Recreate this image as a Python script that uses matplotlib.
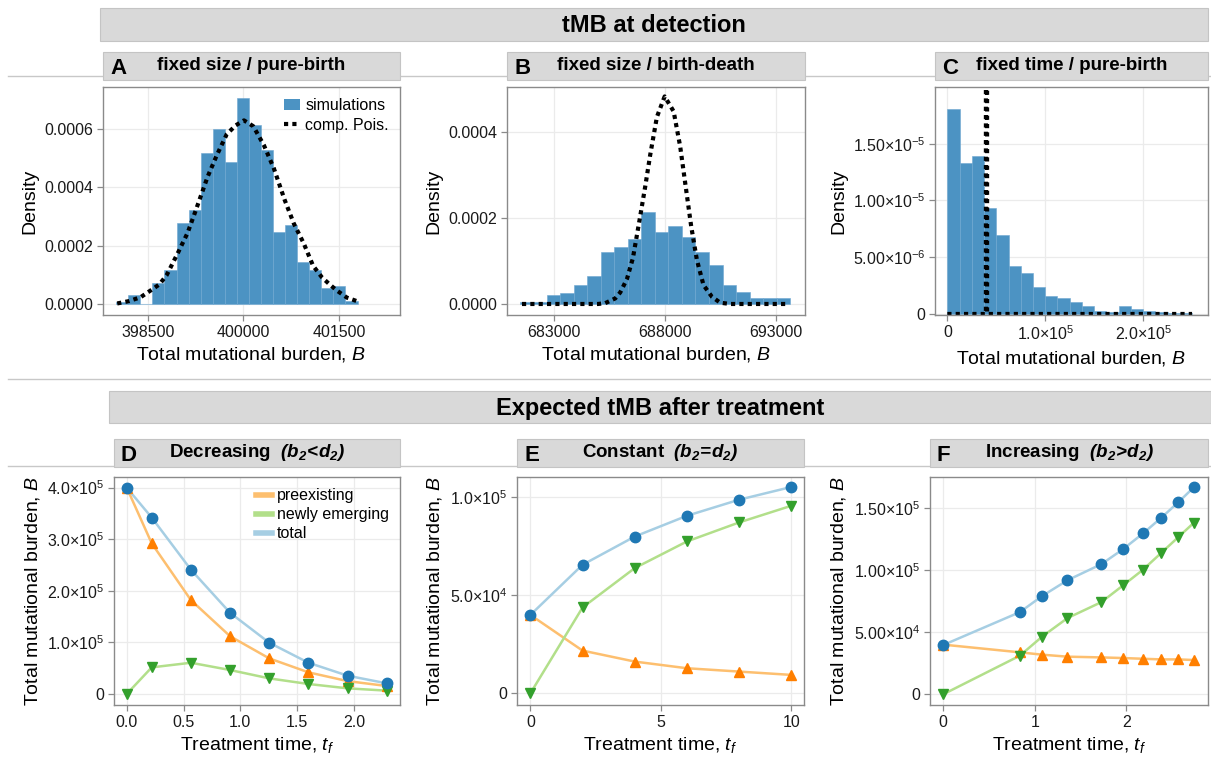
"""
tMB at detection (histograms vs compound Poisson) and expected tMB after treatment.
"""

import numpy as np
import matplotlib
matplotlib.use("Agg")
import matplotlib.pyplot as plt
from matplotlib.lines import Line2D
from matplotlib.patches import Patch, Rectangle

plt.rcParams["font.family"] = ["Liberation Sans", "DejaVu Sans"]
plt.rcParams["mathtext.fontset"] = "custom"
plt.rcParams["mathtext.rm"] = "Liberation Sans"
plt.rcParams["mathtext.it"] = "Liberation Sans:italic"
plt.rcParams["mathtext.bf"] = "Liberation Sans:bold"
plt.rcParams["mathtext.sf"] = "Liberation Sans:bold:italic"

# ---- panel A: fixed size / pure-birth ----
A_edges = [398005, 398194, 398384, 398573, 398762, 398952, 399141, 399330, 399520, 399709,
           399898, 400088, 400277, 400466, 400656, 400845, 401034, 401224, 401413, 401602, 401792]
A_density = [0.000009, 0.000032, 0.0, 0.000072, 0.000117, 0.000278, 0.000322, 0.000517, 0.000600, 0.000486,
             0.000705, 0.000611, 0.000528, 0.000248, 0.000270, 0.000145, 0.000117, 0.000055, 0.000063, 0.000010]
A_curve_x = [398020, 398203, 398385, 398542, 398682, 398797, 398969, 399125, 399255, 399438, 399583,
             399740, 399880, 400010, 400156, 400323, 400479, 400646, 400792, 400948, 401094, 401234,
             401365, 401469, 401625, 401781]
A_curve_y = [0.000003, 0.000011, 0.000024, 0.000047, 0.000068, 0.000100, 0.000174, 0.000244, 0.000322,
             0.000435, 0.000509, 0.000581, 0.000611, 0.000628, 0.000608, 0.000543, 0.000464, 0.000358,
             0.000276, 0.000208, 0.000132, 0.000092, 0.000066, 0.000047, 0.000023, 0.000011]
A_xticks = [398500, 400000, 401500]
A_xticklabels = ["398500", "400000", "401500"]
A_yticks = [0.0, 0.0002, 0.0004, 0.0006]
A_yticklabels = ["0.0000", "0.0002", "0.0004", "0.0006"]

# ---- panel B: fixed size / birth-death ----
B_edges = [681470, 682079, 682688, 683297, 683906, 684515, 685124, 685733, 686342, 686951, 687560,
           688169, 688778, 689387, 689996, 690605, 691214, 691823, 692432, 693041, 693650]
B_density = [0.000005, 0.000005, 0.000021, 0.000025, 0.000044, 0.000065, 0.000121, 0.000134, 0.000151, 0.000214,
             0.000167, 0.000183, 0.000157, 0.000121, 0.000091, 0.000044, 0.000029, 0.000015, 0.000015, 0.000015]
B_curve_x = [681575, 685000, 685325, 685775, 686000, 686300, 686570, 686870, 687125, 687350, 687650,
             688000, 688405, 688700, 688925, 689195, 689450, 689750, 690125, 690500, 690950, 693575]
B_curve_y = [0.0, 0.0, 0.000002, 0.000013, 0.000027, 0.000058, 0.000107, 0.000196, 0.000274, 0.000348,
             0.000436, 0.000484, 0.000449, 0.000367, 0.000282, 0.000181, 0.000103, 0.000044, 0.000017,
             0.000003, 0.0, 0.0]
B_xticks = [683000, 688000, 693000]
B_xticklabels = ["683000", "688000", "693000"]
B_yticks = [0.0, 0.0002, 0.0004]
B_yticklabels = ["0.0000", "0.0002", "0.0004"]

# ---- panel C: fixed time / pure-birth ----
C_edges = [0, 12500, 25000, 37500, 50000, 62500, 75000, 87500, 100000, 112500, 125000,
           137500, 150000, 162500, 175000, 187500, 200000, 212500, 225000, 237500, 250000]
C_density = [1.81e-5, 1.33e-5, 1.39e-5, 9.3e-6, 7.0e-6, 4.2e-6, 3.6e-6, 2.35e-6, 1.6e-6, 1.4e-6,
             1.03e-6, 7.4e-7, 2.9e-7, 2.1e-7, 7.4e-7, 4.4e-7, 2.9e-7, 2.1e-7, 1.2e-7, 1.2e-7]
C_curve_x = [0, 39400, 39700, 40000, 40300, 40600, 250000]
C_curve_y = [0.0, 0.0, 1.0e-3, 2.0e-3, 1.0e-3, 0.0, 0.0]
C_xticks = [0, 100000, 200000]
C_xticklabels = ["0", r"$1.0{\times}10^5$", r"$2.0{\times}10^5$"]
C_yticks = [0, 5e-6, 1e-5, 1.5e-5]
C_yticklabels = ["0", r"$5.00{\times}10^{-6}$", r"$1.00{\times}10^{-5}$", r"$1.50{\times}10^{-5}$"]

# ---- panel D: decreasing (b2<d2) ----
D_t = [0.0, 0.22, 0.565, 0.91, 1.255, 1.60, 1.945, 2.29]
D_pre = [4.0e5, 2.92e5, 1.82e5, 1.12e5, 0.69e5, 0.42e5, 0.25e5, 0.155e5]
D_new = [0.0, 0.516e5, 0.606e5, 0.465e5, 0.303e5, 0.194e5, 0.11e5, 0.065e5]
D_total = [4.0e5, 3.42e5, 2.41e5, 1.574e5, 0.994e5, 0.606e5, 0.355e5, 0.206e5]
D_xticks = [0.0, 0.5, 1.0, 1.5, 2.0]
D_xticklabels = ["0.0", "0.5", "1.0", "1.5", "2.0"]
D_yticks = [0, 1e5, 2e5, 3e5, 4e5]
D_yticklabels = ["0", r"$1.0{\times}10^5$", r"$2.0{\times}10^5$", r"$3.0{\times}10^5$", r"$4.0{\times}10^5$"]

# ---- panel E: constant (b2=d2) ----
E_t = [0, 2, 4, 6, 8, 10]
E_pre = [4.0e4, 2.18e4, 1.62e4, 1.28e4, 1.11e4, 0.94e4]
E_new = [0.0, 4.38e4, 6.39e4, 7.75e4, 8.72e4, 9.57e4]
E_total = [4.0e4, 6.56e4, 8.0e4, 9.06e4, 9.88e4, 10.53e4]
E_xticks = [0, 5, 10]
E_xticklabels = ["0", "5", "10"]
E_yticks = [0, 5e4, 1e5]
E_yticklabels = ["0", r"$5.0{\times}10^4$", r"$1.0{\times}10^5$"]

# ---- panel F: increasing (b2>d2) ----
F_t = [0.0, 0.836, 1.08, 1.356, 1.727, 1.964, 2.182, 2.382, 2.564, 2.738]
F_pre = [4.0e4, 3.38e4, 3.19e4, 3.03e4, 2.97e4, 2.92e4, 2.86e4, 2.81e4, 2.81e4, 2.76e4]
F_new = [0.0, 3.11e4, 4.65e4, 6.14e4, 7.43e4, 8.78e4, 10.05e4, 11.41e4, 12.65e4, 13.84e4]
F_total = [3.97e4, 6.62e4, 7.92e4, 9.19e4, 10.49e4, 11.70e4, 12.97e4, 14.24e4, 15.46e4, 16.70e4]
F_xticks = [0, 1, 2]
F_xticklabels = ["0", "1", "2"]
F_yticks = [0, 5e4, 1e5, 1.5e5]
F_yticklabels = ["0", r"$5.00{\times}10^4$", r"$1.00{\times}10^5$", r"$1.50{\times}10^5$"]

W, H = 1211, 757
BAR_COLOR = "#4c93c3"
BOX_COLOR = "#d9d9d9"
PRE_LINE, PRE_MARK = "#fdbf6f", "#ff7f00"
NEW_LINE, NEW_MARK = "#b2df8a", "#33a02c"
TOT_LINE, TOT_MARK = "#a6cee3", "#1f78b4"
DOTS = (0, (1, 1))

fig = plt.figure(figsize=(W / 100, H / 100), dpi=100)


def px_axes(x0, x1, y0, y1):
    """Add axes given pixel box (y measured from top)."""
    return fig.add_axes([x0 / W, 1 - y1 / H, (x1 - x0) / W, (y1 - y0) / H])


def px_box(x0, x1, y0, y1, border=True):
    fig.patches.append(Rectangle((x0 / W, 1 - y1 / H), (x1 - x0) / W, (y1 - y0) / H,
                                 transform=fig.transFigure, facecolor=BOX_COLOR,
                                 edgecolor="#c4c4c4" if border else "none", linewidth=0.8, zorder=2))


def px_hline(y, x0, x1):
    fig.add_artist(Line2D([x0 / W, x1 / W], [1 - y / H, 1 - y / H], color="#c8c8c8",
                          linewidth=1.0, zorder=1))


def panel_title(x0, x1, y0, y1, letter, text):
    px_box(x0, x1, y0, y1)
    yc = 1 - (y0 + y1) / 2 / H
    fig.text((x0 + 7) / W, yc - 0.003, letter, fontsize=16, fontweight="bold", ha="left", va="center", zorder=3)
    fig.text((x0 + x1) / 2 / W, yc, text, fontsize=13.5, fontweight="bold", ha="center", va="center", zorder=3)


def style(ax, xlim, ylim, xticks, xlabels, yticks, ylabels, xlabel, ylabel):
    ax.set_xlim(*xlim)
    ax.set_ylim(*ylim)
    ax.set_xticks(xticks)
    ax.set_xticklabels(xlabels)
    ax.set_yticks(yticks)
    ax.set_yticklabels(ylabels)
    ax.grid(True, color="#ebebeb", linewidth=0.9)
    ax.set_axisbelow(True)
    for s in ax.spines.values():
        s.set_color("#8a8a8a")
        s.set_linewidth(1.0)
    ax.tick_params(direction="out", length=4, width=0.9, color="#8a8a8a", labelsize=11.5, pad=3,
                   labelcolor="#1a1a1a")
    ax.set_xlabel(xlabel, fontsize=14, labelpad=4)
    ax.set_ylabel(ylabel, fontsize=14, labelpad=4)


# separators and section headers
px_hline(76, 8, 1211)
px_hline(379, 8, 1211)
px_hline(466, 8, 1211)
px_box(100, 1208, 8, 41)
fig.text((100 + 1208) / 2 / W, 1 - 25 / H, "tMB at detection", fontsize=17, fontweight="bold",
         ha="center", va="center", zorder=3)
px_box(109, 1211, 391, 423)
fig.text((109 + 1211) / 2 / W, 1 - 408 / H, "Expected tMB after treatment", fontsize=17,
         fontweight="bold", ha="center", va="center", zorder=3)

# top row: histograms
hist_panels = [
    ((103, 400), "A", "fixed size / pure-birth", A_edges, A_density, A_curve_x, A_curve_y,
     (397797, 402459), (-0.0000364, 0.000742), A_xticks, A_xticklabels, A_yticks, A_yticklabels),
    ((507, 805), "B", "fixed size / birth-death", B_edges, B_density, B_curve_x, B_curve_y,
     (680900, 694320), (-0.0000257, 0.000506), B_xticks, B_xticklabels, B_yticks, B_yticklabels),
    ((935, 1208), "C", "fixed time / pure-birth", C_edges, C_density, C_curve_x, C_curve_y,
     (-12600, 266300), (-0.09e-6, 2.0e-5), C_xticks, C_xticklabels, C_yticks, C_yticklabels),
]

for i, ((x0, x1), letter, title, edges, dens, cx, cy, xlim, ylim, xt, xtl, yt, ytl) in enumerate(hist_panels):
    panel_title(x0, x1, 52, 80, letter, title)
    ax = px_axes(x0, x1, 87, 315)
    ax.bar(edges[:-1], dens, width=np.diff(edges), align="edge", color=BAR_COLOR,
           edgecolor="#6ea7d1", linewidth=0.4)
    ax.plot(cx, cy, color="black", linewidth=3.0, linestyle=DOTS, dash_capstyle="butt")
    style(ax, xlim, ylim, xt, xtl, yt, ytl, r"Total mutational burden, $B$", "Density")
    if i == 0:
        handles = [Patch(facecolor=BAR_COLOR, edgecolor="none"),
                   Line2D([], [], color="black", linewidth=3.0, linestyle=DOTS, dash_capstyle="butt")]
        ax.legend(handles, ["simulations", "comp. Pois."], loc="upper right", frameon=False,
                  fontsize=11.5, handlelength=1.0, handletextpad=0.3, labelspacing=0.3,
                  borderaxespad=0.3)

# bottom row: expected tMB after treatment
treat_panels = [
    ((114, 400), "D", r"Decreasing  $\mathsf{(b_2\!<\!d_2)}$", D_t, D_pre, D_new, D_total,
     (-0.112, 2.406), (-0.213e5, 4.206e5), D_xticks, D_xticklabels, D_yticks, D_yticklabels),
    ((517, 804), "E", r"Constant  $\mathsf{(b_2\!=\!d_2)}$", E_t, E_pre, E_new, E_total,
     (-0.513, 10.49), (-0.596e4, 1.104e5), E_xticks, E_xticklabels, E_yticks, E_yticklabels),
    ((930, 1208), "F", r"Increasing  $\mathsf{(b_2\!>\!d_2)}$", F_t, F_pre, F_new, F_total,
     (-0.145, 2.89), (-0.865e4, 1.751e5), F_xticks, F_xticklabels, F_yticks, F_yticklabels),
]

for i, ((x0, x1), letter, title, t, pre, new, total, xlim, ylim, xt, xtl, yt, ytl) in enumerate(treat_panels):
    panel_title(x0, x1, 439, 467, letter, title)
    ax = px_axes(x0, x1, 477, 705)
    ax.plot(t, pre, color=PRE_LINE, linewidth=1.8, zorder=2)
    ax.plot(t, new, color=NEW_LINE, linewidth=1.8, zorder=2)
    ax.plot(t, total, color=TOT_LINE, linewidth=1.8, zorder=2)
    ax.plot(t, pre, linestyle="none", marker="^", markersize=7.5, color=PRE_MARK, zorder=3)
    ax.plot(t, new, linestyle="none", marker="v", markersize=7.5, color=NEW_MARK, zorder=3)
    ax.plot(t, total, linestyle="none", marker="o", markersize=7.5, color=TOT_MARK, zorder=4)
    style(ax, xlim, ylim, xt, xtl, yt, ytl, r"Treatment time, $t_f$", r"Total mutational burden, $B$")
    if i == 0:
        handles = [Line2D([], [], color=PRE_LINE, linewidth=4),
                   Line2D([], [], color=NEW_LINE, linewidth=4),
                   Line2D([], [], color=TOT_LINE, linewidth=4)]
        ax.legend(handles, ["preexisting", "newly emerging", "total"], loc="upper right",
                  frameon=False, fontsize=11.5, handlelength=1.0, handletextpad=0.3,
                  labelspacing=0.25, borderaxespad=0.3)

fig.savefig("out.png", dpi=100)
